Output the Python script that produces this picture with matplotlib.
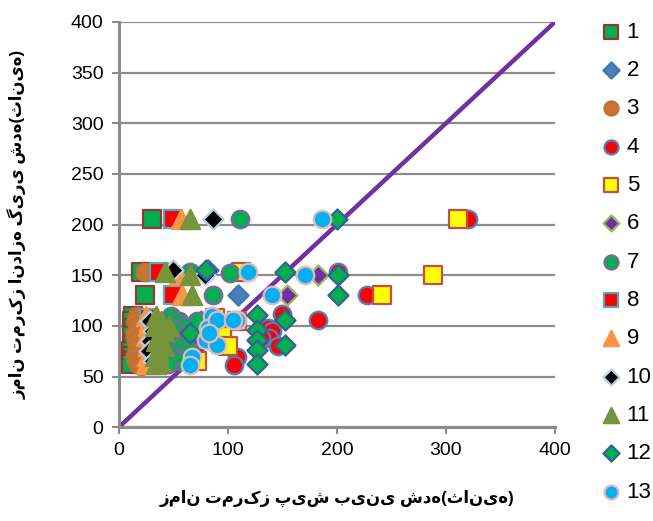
import matplotlib
matplotlib.use("Agg")
import matplotlib.pyplot as plt

plt.rcParams['font.family'] = ['Liberation Sans', 'DejaVu Sans']

# ---- data (predicted x, measured y) ----
s1_x = [30, 20, 24, 13, 12, 13, 12, 13, 11, 12, 13, 11]
s1_y = [205, 153, 130, 110, 105, 98, 90, 82, 75, 70, 65, 62]
s2_x = [109, 82, 65, 45, 75, 38]
s2_y = [130, 155, 93, 88, 105, 100]
s3_x = [24, 36, 17, 16, 17, 15, 16, 17, 15, 16, 18, 20]
s3_y = [153, 153, 110, 105, 100, 92, 85, 78, 70, 65, 62, 60]
s4_x = [320, 201, 228, 183, 150, 137, 140, 138, 146, 108, 106, 130]
s4_y = [205, 153, 130, 106, 112, 98, 95, 88, 80, 69, 61, 88]
s5_x = [311, 288, 241, 112, 108, 88, 95, 72, 100]
s5_y = [205, 150, 130, 153, 105, 108, 90, 65, 80]
s6_x = [183, 154, 55, 85, 70]
s6_y = [150, 130, 95, 100, 85]
s7_x = [111, 102, 86, 65, 48, 55, 60, 52, 62, 50, 58, 65, 50, 55, 45, 72]
s7_y = [205, 152, 130, 153, 110, 105, 100, 95, 90, 85, 80, 75, 70, 65, 62, 105]
s8_x = [50, 37, 50, 28, 30]
s8_y = [205, 153, 130, 108, 95]
s9_x = [57, 55, 58, 25, 27, 25, 27, 26, 25, 28]
s9_y = [205, 150, 130, 110, 100, 90, 80, 70, 62, 105]
s10_x = [86, 79, 50, 29, 31, 29, 28, 31, 35]
s10_y = [205, 150, 155, 105, 95, 85, 75, 65, 62]
s11_x = [65, 42, 65, 67, 34, 39, 33, 41, 36, 34, 41, 36, 33, 39, 34, 46]
s11_y = [205, 153, 150, 130, 110, 105, 100, 95, 90, 85, 80, 75, 70, 65, 62, 100]
s12_x = [200, 152, 201, 201, 152, 152, 127, 127, 127, 127, 127, 80, 65]
s12_y = [205, 153, 150, 130, 106, 81, 111, 96, 86, 76, 62, 155, 93]
s13_x = [186, 118, 171, 140, 108, 85, 82, 80, 90, 67, 65, 90, 83, 105]
s13_y = [205, 153, 150, 130, 106, 110, 98, 86, 81, 69, 61, 106, 93, 106]

series = [
    ("1", s1_x, s1_y, 's', '#00B050', '#953735'),
    ("2", s2_x, s2_y, 'D', '#4A7EBB', '#3D78A8'),
    ("3", s3_x, s3_y, 'o', '#C87533', '#C0722F'),
    ("4", s4_x, s4_y, 'o', '#FF0000', '#4F81BD'),
    ("5", s5_x, s5_y, 's', '#FFFF00', '#C0504D'),
    ("6", s6_x, s6_y, 'D', '#7030A0', '#9BBB59'),
    ("7", s7_x, s7_y, 'o', '#00B050', '#8064A2'),
    ("8", s8_x, s8_y, 's', '#FF0000', '#4BACC6'),
    ("9", s9_x, s9_y, '^', '#F79646', '#F79646'),
    ("10", s10_x, s10_y, 'D', '#000000', '#B9CDE5'),
    ("11", s11_x, s11_y, '^', '#77933C', '#77933C'),
    ("12", s12_x, s12_y, 'D', '#00B050', '#376092'),
    ("13", s13_x, s13_y, 'o', '#00B0F0', '#E6B9B8'),
]

fig = plt.figure(figsize=(6.53, 5.21), dpi=100)
ax = fig.add_axes([0.182, 0.180, 0.668, 0.778])

ax.plot([0, 400], [0, 400], color='#7030A0', lw=3.2, zorder=1.5)

handles = []
for lab, xs, ys, m, fc, ec in series:
    size = 160 if m in ('s', 'o') else 105
    if m == '^':
        size = 190
    h = ax.scatter(xs, ys, marker=m, s=size, facecolor=fc, edgecolor=ec,
                   linewidths=1.6, label=lab, zorder=3)
    handles.append(h)

ax.set_xlim(0, 400)
ax.set_ylim(0, 400)
ax.set_xticks(range(0, 401, 100))
ax.set_yticks(range(0, 401, 50))
ax.tick_params(labelsize=14, colors='#000000', length=5, width=1.5, pad=6)
ax.tick_params(axis='both', color='#8C8C8C')
ax.yaxis.grid(True, color='#8C8C8C', lw=1.6)
ax.set_axisbelow(True)
for sp in ['top', 'right']:
    ax.spines[sp].set_visible(False)
for sp in ['left', 'bottom']:
    ax.spines[sp].set_color('#8C8C8C')
    ax.spines[sp].set_linewidth(2.2)

ax.set_xlabel('زمان تمرکز پیش بینی شده(ثانیه)', fontsize=12, fontweight='bold', labelpad=22)
ax.set_ylabel('زمان تمرکز اندازه گیری شده(ثانیه)', fontsize=12, fontweight='bold', labelpad=32)

fig.legend(handles=handles, loc='upper left', bbox_to_anchor=(0.900, 0.980),
           frameon=False, fontsize=16, labelspacing=0.78, handletextpad=0.15,
           handlelength=1.1, borderpad=0, scatterpoints=1, markerscale=0.8)

fig.savefig('out.png', dpi=100)
